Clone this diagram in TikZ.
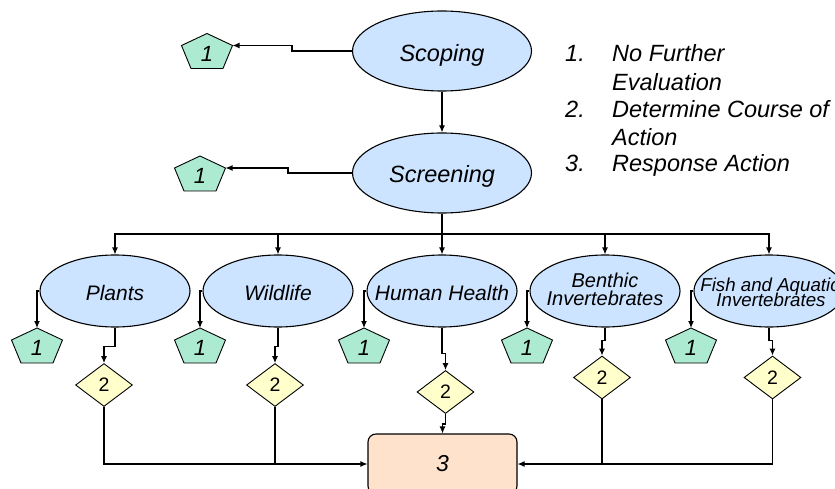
\documentclass[tikz,border=0pt]{standalone}
\usepackage{fontspec}
\setmainfont{Liberation Sans}
\usetikzlibrary{arrows.meta,shapes.geometric,calc}

\definecolor{stageblue}{RGB}{204,228,255}
\definecolor{pentmint}{RGB}{172,234,210}
\definecolor{decideyellow}{RGB}{255,255,204}
\definecolor{actionpeach}{RGB}{255,226,204}

\tikzset{
  stage/.style={ellipse, draw, line width=1.1pt, fill=stageblue, inner sep=0pt,
    minimum width=179pt, minimum height=80pt},
  branch/.style={ellipse, draw, line width=1.1pt, fill=stageblue, inner sep=0pt,
    minimum width=150pt, minimum height=72pt},
  stagetext/.style={anchor=base, inner sep=0pt,
    font=\fontsize{23.5}{26}\selectfont\itshape},
  branchtext/.style={anchor=base, inner sep=0pt,
    font=\fontsize{21}{24}\selectfont\itshape},
  pentshape/.style={draw, line width=0.9pt, fill=pentmint},
  pentlabel/.style={inner sep=0pt, font=\fontsize{22}{24}\selectfont\itshape},
  decide/.style={diamond, draw, line width=0.9pt, fill=decideyellow, inner sep=0pt,
    minimum width=57pt, minimum height=43pt, font=\fontsize{19.5}{22}\selectfont},
  actionbox/.style={draw, line width=1.1pt, fill=actionpeach, rounded corners=8pt,
    minimum width=149pt, minimum height=60pt, inner sep=0pt,
    font=\fontsize{23}{26}\selectfont\itshape},
  legend/.style={anchor=base west, inner sep=0pt,
    font=\fontsize{23.5}{28}\selectfont\itshape},
  link/.style={line width=1.1pt},
  arr/.style={link, -{Latex[length=7pt,width=6pt]}},
}

% pentagon "1": name, centre
\newcommand\pentnode[2]{%
  \coordinate (#1) at (#2);
  \coordinate (#1-top) at ($(#1)+(0,-17.5)$);
  \coordinate (#1-right) at ($(#1)+(25.5,-5.5)$);
  \draw[pentshape] (#1-top) -- (#1-right) -- ($(#1)+(16,17.5)$)
    -- ($(#1)+(-16,17.5)$) -- ($(#1)+(-25.5,-5.5)$) -- cycle;
  \node[pentlabel] (#1-label) at ($(#1)+(0,2.5)$) {1};
}

\begin{document}
\begin{tikzpicture}[x=1pt,y=-1pt]
\useasboundingbox (0,0) rectangle (835,489);

% main stages
\node[stage] (scoping) at (442,51) {};
\node[stagetext] (scoping-t) at (442,62) {Scoping};
\node[stage] (screening) at (442,173) {};
\node[stagetext] (screening-t) at (442,183) {Screening};

% assessment branches
\node[branch] (plants) at (115,291) {};
\node[branchtext] (plants-t) at (115,300) {Plants};
\node[branch] (wildlife) at (278,291) {};
\node[branchtext] (wildlife-t) at (278,300) {Wildlife};
\node[branch] (human) at (442,291) {};
\node[branchtext] (human-t) at (442,300) {Human Health};
\node[branch] (benthic) at (605,291) {};
\node[branchtext, font=\fontsize{20}{22}\selectfont\itshape] (benthic-t1) at (605,287.5) {Benthic};
\node[branchtext, font=\fontsize{20}{22}\selectfont\itshape] (benthic-t2) at (605,305) {Invertebrates};
\node[branch] (fish) at (769,291) {};
\node[branchtext, font=\fontsize{18.7}{20}\selectfont\itshape] (fish-t1) at (770,291) {Fish and Aquatic};
\node[branchtext, font=\fontsize{18.7}{20}\selectfont\itshape] (fish-t2) at (771,306.5) {Invertebrates};

% "no further evaluation" outcomes
\pentnode{pa}{207,51}
\pentnode{pb}{200,173.5}
\pentnode{p1}{37,345.5}
\pentnode{p2}{200,345.5}
\pentnode{p3}{364,345.5}
\pentnode{p4}{527,345.5}
\pentnode{p5}{691,345.5}

% decision diamonds
\node[decide] (d1) at (104,385) {2};
\node[decide] (d2) at (275,385) {2};
\node[decide] (d3) at (445.5,392) {2};
\node[decide] (d4) at (602,377.5) {2};
\node[decide] (d5) at (772.5,377.5) {2};

% response action
\node[actionbox] (resp) at (442.5,464) {3};

% legend
\node[legend] (l1n) at (565,62) {1.};
\node[legend] (l1a) at (612,62) {No Further};
\node[legend] (l1b) at (612,91) {Evaluation};
\node[legend] (l2n) at (565,118) {2.};
\node[legend] (l2a) at (612,118) {Determine Course of};
\node[legend] (l2b) at (612,146) {Action};
\node[legend] (l3n) at (565,172) {3.};
\node[legend] (l3a) at (612,172) {Response Action};

% top connectors
\draw[arr] (scoping.south) -- (screening.north);
\draw[arr] (scoping.west) -- ++(-60,0) |- (pa-right);
\draw[arr] (screening.west) -- ++(-64,0) |- (pb-right);

% distribution bus
\coordinate (bus) at (442,234);
\draw[link] (screening.south) -- (bus);
\foreach \b in {plants,wildlife,human,benthic,fish}
  \draw[arr] (bus) -| (\b.north);

% branches to pentagons
\draw[arr] (plants.west) -| (p1-top);
\draw[arr] (wildlife.west) -| (p2-top);
\draw[arr] (human.west) -| (p3-top);
\draw[arr] (benthic.west) -| (p4-top);
\draw[arr] (fish.west) -| (p5-top);

% branches to decisions
\draw[arr] (plants.south) -- ++(0,19) -| (d1.north);
\draw[arr] (wildlife.south) -- ++(0,19) -| (d2.north);
\draw[arr] (human.south) -- ++(0,26) -| (d3.north);
\draw[arr] (benthic.south) -- ++(0,13) -| (d4.north);
\draw[arr] (fish.south) -- ++(0,13) -| (d5.north);

% decisions to response action
\draw[arr] (d1.south) |- (resp.west);
\draw[link] (d2.south) -- (d2.south |- resp.west);
\draw[arr] (d3.south) -- ++(0,10) -| (resp.north);
\draw[link] (d4.south) -- (d4.south |- resp.east);
\draw[arr] (d5.south) |- (resp.east);
\end{tikzpicture}
\end{document}
